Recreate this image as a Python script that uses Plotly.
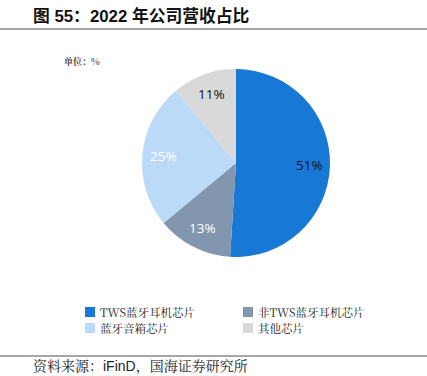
import math
import plotly.graph_objects as go

categories = ["TWS蓝牙耳机芯片", "非TWS蓝牙耳机芯片", "蓝牙音箱芯片", "其他芯片"]
values = [51, 13, 25, 11]
colors = ["#1878D6", "#8296B0", "#BBDAF8", "#D9D9D9"]
text_colors = ["#111111", "#FFFFFF", "#FFFFFF", "#111111"]

W, H = 427, 376
CX, CY, R = 236, 163, 94  # pie centre / radius in pixels

fig = go.Figure()
fig.add_trace(go.Pie(
    labels=categories, values=values, sort=False, direction="clockwise", rotation=0,
    marker=dict(colors=colors, line=dict(color="#FFFFFF", width=0)),
    textinfo="none",
    domain=dict(x=[(CX - R) / W, (CX + R) / W], y=[1 - (CY + R) / H, 1 - (CY - R) / H]),
    hoverinfo="label+percent",
))

annotations = []
total = sum(values)
cum = 0
for v, tc in zip(values, text_colors):
    mid = (cum + v / 2) / total * 2 * math.pi
    cum += v
    px = CX + 0.78 * R * math.sin(mid)
    py = CY - 0.78 * R * math.cos(mid)
    annotations.append(dict(text=f"{v}%", x=px / W, y=1 - py / H, xref="paper", yref="paper",
                            xanchor="center", yanchor="middle", showarrow=False,
                            font=dict(size=13.5, family="Open Sans, Liberation Sans", color=tc)))

shapes = []
leg_cols = [85, 243]
leg_rows = [312, 328]
for i, (cat, col) in enumerate(zip(categories, colors)):
    lx = leg_cols[i % 2]
    ly = leg_rows[i // 2]
    shapes.append(dict(type="rect", xref="paper", yref="paper",
                       x0=lx / W, x1=(lx + 10) / W, y0=1 - (ly + 5) / H, y1=1 - (ly - 5) / H,
                       fillcolor=col, line=dict(width=0)))
    annotations.append(dict(text=cat, x=(lx + 13) / W, y=1 - ly / H, xref="paper", yref="paper",
                            xanchor="left", yanchor="middle", showarrow=False,
                            font=dict(size=11.5, family="Noto Serif CJK SC, DejaVu Serif, serif", color="#222")))

annotations += [
    dict(text="<b>图 55：2022 年公司营收占比</b>", x=31 / W, y=1 - 16 / H, xref="paper", yref="paper",
         xanchor="left", yanchor="middle", showarrow=False,
         font=dict(size=16.8, family="Liberation Sans, Noto Sans CJK SC", color="#111")),
    dict(text="<b>单位：%</b>", x=62 / W, y=1 - 62 / H, xref="paper", yref="paper",
         xanchor="left", yanchor="middle", showarrow=False,
         font=dict(size=9, family="Noto Serif CJK SC, serif", color="#444")),
    dict(text="资料来源：iFinD，国海证券研究所", x=31 / W, y=1 - 366 / H, xref="paper", yref="paper",
         xanchor="left", yanchor="middle", showarrow=False,
         font=dict(size=14, family="Liberation Sans, Noto Serif CJK SC, serif", color="#222")),
]
shapes += [
    dict(type="line", xref="paper", yref="paper", x0=0, x1=1, y0=1 - 29 / H, y1=1 - 29 / H,
         line=dict(color="#888", width=1.5)),
    dict(type="line", xref="paper", yref="paper", x0=0, x1=1, y0=1 - 356 / H, y1=1 - 356 / H,
         line=dict(color="#888", width=1.5)),
]

fig.update_layout(
    width=W, height=H, margin=dict(l=0, r=0, t=0, b=0),
    paper_bgcolor="white", plot_bgcolor="white",
    showlegend=False,
    annotations=annotations,
    shapes=shapes,
)

fig.write_html("out.html", config={"displayModeBar": False},
               post_script="document.body.style.margin='0';")
